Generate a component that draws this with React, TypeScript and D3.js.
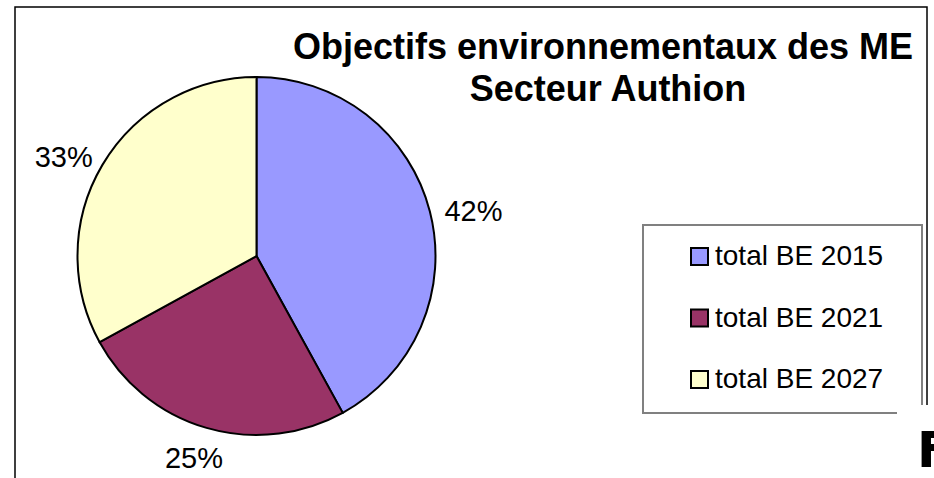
import React, { useRef, useEffect } from 'react';
import * as d3 from 'd3';

const categories = ['total BE 2015', 'total BE 2021', 'total BE 2027'];
const values = [42, 25, 33];
const colors = ['#9999FF', '#993366', '#FFFFCC'];
const titleLines = ['Objectifs environnementaux des ME', 'Secteur Authion'];

const W = 934;
const H = 478;

const App: React.FC = () => {
  const svgRef = useRef<SVGSVGElement>(null);

  useEffect(() => {
    if (!svgRef.current) return;
    const svg = d3.select(svgRef.current);
    svg.selectAll('*').remove();

    const font = '"Liberation Sans", Arial, sans-serif';

    // chart area border (runs off the bottom of the picture)
    svg.append('rect')
      .attr('x', 15).attr('y', 7)
      .attr('width', 912).attr('height', 600)
      .attr('fill', 'white')
      .attr('stroke', 'black')
      .attr('stroke-width', 1.5);

    // title
    svg.append('text')
      .attr('text-anchor', 'middle')
      .style('font-family', font)
      .style('font-size', '36px')
      .style('font-weight', 'bold')
      .style('fill', 'black')
      .selectAll('tspan')
      .data(titleLines)
      .enter()
      .append('tspan')
      .attr('x', (_, i) => (i === 0 ? 603 : 608))
      .attr('y', (_, i) => 59 + i * 42)
      .text(d => d);

    // pie
    const cx = 256.5;
    const cy = 256;
    const r = 179;

    const pie = d3.pie<number>().sort(null).value(d => d);
    const arcs = pie(values);
    const arc = d3.arc<d3.PieArcDatum<number>>().innerRadius(0).outerRadius(r);

    const g = svg.append('g').attr('transform', `translate(${cx},${cy})`);
    g.selectAll('path')
      .data(arcs)
      .enter()
      .append('path')
      .attr('d', arc)
      .attr('fill', (_, i) => colors[i])
      .attr('stroke', 'black')
      .attr('stroke-width', 2)
      .attr('stroke-linejoin', 'round');

    // percentage labels outside the pie
    const total = d3.sum(values);
    const labelR = 194;
    const lw = 60;
    const lh = 21;
    arcs.forEach(a => {
      const mid = (a.startAngle + a.endAngle) / 2;
      const sx = Math.sin(mid);
      const sy = -Math.cos(mid);
      const x = sx * labelR + sx * lw / 2;
      const y = sy * labelR + sy * lh / 2;
      g.append('text')
        .attr('x', x)
        .attr('y', y + lh / 2 + 5)
        .attr('text-anchor', 'middle')
        .style('font-family', font)
        .style('font-size', '29px')
        .style('fill', 'black')
        .text(`${Math.round((a.data / total) * 100)}%`);
    });

    // legend
    const legend = svg.append('g');
    legend.append('rect')
      .attr('x', 643).attr('y', 225)
      .attr('width', 279).attr('height', 188)
      .attr('fill', 'white')
      .attr('stroke', '#808080')
      .attr('stroke-width', 2);

    categories.forEach((c, i) => {
      const base = 265 + i * 61.5;
      legend.append('rect')
        .attr('x', 691).attr('y', base - 17)
        .attr('width', 17).attr('height', 17)
        .attr('fill', colors[i])
        .attr('stroke', 'black')
        .attr('stroke-width', 2);
      legend.append('text')
        .attr('x', 715).attr('y', base)
        .style('font-family', font)
        .style('font-size', '28px')
        .style('fill', 'black')
        .text(c);
    });

    // page fragment overlapping the bottom right corner
    svg.append('rect')
      .attr('x', 897).attr('y', 405)
      .attr('width', 40).attr('height', 80)
      .attr('fill', 'white');
    svg.append('text')
      .attr('x', 917).attr('y', 467)
      .style('font-family', '"DejaVu Sans", sans-serif')
      .style('font-size', '50px')
      .style('font-weight', 'bold')
      .style('fill', 'black')
      .text('F');
  }, []);

  return (
    <svg
      ref={svgRef}
      width={W}
      height={H}
      style={{ position: 'absolute', left: 0, top: 0, background: 'white' }}
    />
  );
};

export default App;
